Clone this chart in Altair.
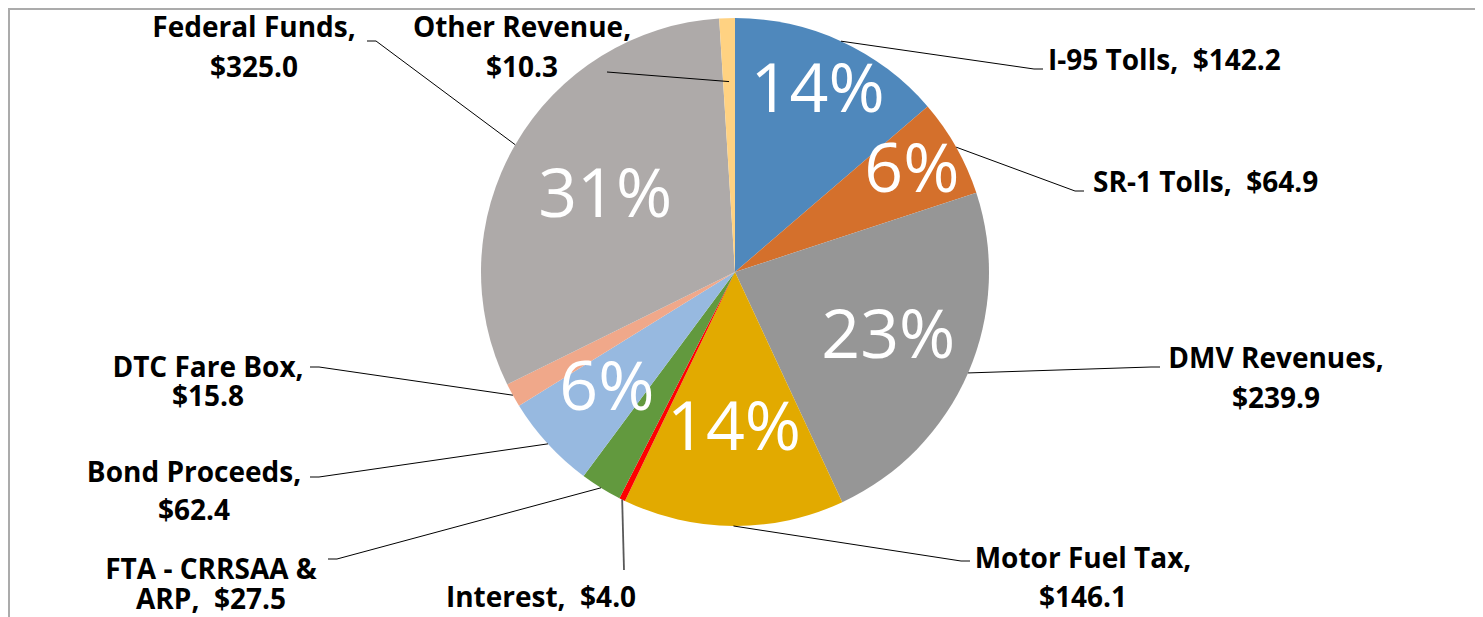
import altair as alt
import pandas as pd

# ---------------- data ----------------
categories = ["I-95 Tolls", "SR-1 Tolls", "DMV Revenues", "Motor Fuel Tax", "Interest",
              "FTA - CRRSAA & ARP", "Bond Proceeds", "DTC Fare Box", "Federal Funds", "Other Revenue"]
values = [142.2, 64.9, 239.9, 146.1, 4.0, 27.5, 62.4, 15.8, 325.0, 10.3]
colors = ["#4F88BC", "#D4702C", "#969696", "#E2AA00", "#FF0000",
          "#62993E", "#97B9E0", "#F0A88A", "#AEAAA9", "#FFD282"]

# how each data label is broken into lines ("one" = single line, "name" = name / value,
# any other string = text of the category kept on the first line)
label_break = ["one", "one", "name", "name", "one", "FTA - CRRSAA &", "name", "name", "name", "name"]

# ---------------- layout (pixels, relative to the pie centre) ----------------
label_dx = [313, 358, 541, 348, -194, -524, -541, -527, -481, -213]
label_dy = [-202, -80, 96, 296, 335, 307, 210, 105, -235, -235]
label_align = ["left", "left", "center", "center", "center", "center", "center", "center", "center", "center"]
line_gap = [0, 0, 40, 39, 0, 30, 38, 29, 40, 40]
leader_dx = [308, 349, 425, 235, -111, -407, -425, -425, -368, -128]
leader_dy = [-203, -81, 95, 289, 298, 287, 205, 95, -231, -200]
leader_elbow = [-9, -9, -9, -9, 0, 9, 9, 9, 9, 0]
leader_start = [1, 1, 1, 1, 1, 1, 1, 1, 1, 0.75]
leader_color = ["#000000"] * 4 + ["#595959"] + ["#000000"] * 5
leader_width = [1, 1, 1, 1, 1.8, 1, 1, 1, 1, 1]
pct_radius = [198, 203, 167, 158, 0, 0, 174, 0, 150, 0]

PAD_L, PAD_T = 2, 4
W, H = 1450, 520          # view; the pie is centred in it (page centre 735, 272)
TOTAL_W, TOTAL_H = 1467, 609
CX, CY = W / 2, H / 2
R = 254

NB = "\u00a0 "
line1, line2 = [], []
for cat, v, br in zip(categories, values, label_break):
    val = f"${v:.1f}"
    if br == "one":
        line1.append(f"{cat},{NB}{val}")
        line2.append("")
    elif br == "name":
        line1.append(f"{cat},")
        line2.append(val)
    else:
        rest = cat[len(br):].strip()
        line1.append(br)
        line2.append(f"{rest},{NB}{val}")

df = pd.DataFrame({
    "idx": list(range(len(categories))),
    "category": categories,
    "value": values,
    "line1": line1,
    "line2": line2,
    "ldx": label_dx,
    "ldy": label_dy,
    "align": label_align,
    "gap": line_gap,
    "edx": leader_dx,
    "edy": leader_dy,
    "elbow": leader_elbow,
    "lstart": leader_start,
    "lcolor": leader_color,
    "lwidth": leader_width,
    "prad": pct_radius,
})

base = alt.Chart(df).transform_joinaggregate(
    total="sum(value)"
).transform_window(
    cum="sum(value)", sort=[alt.SortField("idx")], frame=[None, 0]
).transform_calculate(
    mid="2*PI*(datum.cum - datum.value/2)/datum.total",
    pct="datum.value/datum.total",
)

pie = alt.Chart(df).mark_arc(outerRadius=R).encode(
    theta=alt.Theta("value:Q", stack=True),
    color=alt.Color("category:N", scale=alt.Scale(domain=categories, range=colors), legend=None),
    order=alt.Order("idx:Q"),
)

pct_text = base.transform_filter("datum.pct >= 0.05").transform_calculate(
    px=f"{CX} + datum.prad*sin(datum.mid)",
    py=f"{CY} - datum.prad*cos(datum.mid)",
    ptxt="format(datum.pct, '.0%')",
).mark_text(font="Open Sans", fontSize=68, color="white", align="center", baseline="middle").encode(
    x=alt.X("px:Q", scale=None), y=alt.Y("py:Q", scale=None), text="ptxt:N"
)

leaders = base.transform_calculate(
    sx=f"{CX} + {R}*datum.lstart*sin(datum.mid)",
    sy=f"{CY} - {R}*datum.lstart*cos(datum.mid)",
    bx=f"{CX} + datum.edx + datum.elbow",
    by=f"{CY} + datum.edy",
    ex=f"{CX} + datum.edx",
    ey=f"{CY} + datum.edy",
)
seg1 = leaders.mark_rule().encode(
    x=alt.X("sx:Q", scale=None), y=alt.Y("sy:Q", scale=None), x2="bx:Q", y2="by:Q",
    stroke=alt.Stroke("lcolor:N", scale=None), strokeWidth=alt.StrokeWidth("lwidth:Q", scale=None),
)
seg2 = leaders.mark_rule().encode(
    x=alt.X("bx:Q", scale=None), y=alt.Y("by:Q", scale=None), x2="ex:Q", y2="ey:Q",
    stroke=alt.Stroke("lcolor:N", scale=None), strokeWidth=alt.StrokeWidth("lwidth:Q", scale=None),
)

lab = base.transform_calculate(
    tx=f"{CX} + datum.ldx",
    ty1=f"{CY} + datum.ldy",
    ty2=f"{CY} + datum.ldy + datum.gap",
)
txt_style = dict(font="Open Sans", fontWeight="bold", fontSize=28, color="black", baseline="alphabetic")
lab_left = lab.transform_filter("datum.align == 'left'").mark_text(align="left", **txt_style).encode(
    x=alt.X("tx:Q", scale=None), y=alt.Y("ty1:Q", scale=None), text="line1:N"
)
lab_center = lab.transform_filter("datum.align == 'center'").mark_text(align="center", **txt_style).encode(
    x=alt.X("tx:Q", scale=None), y=alt.Y("ty1:Q", scale=None), text="line1:N"
)
lab_second = lab.transform_filter("datum.line2 != ''").mark_text(align="center", **txt_style).encode(
    x=alt.X("tx:Q", scale=None), y=alt.Y("ty2:Q", scale=None), text="line2:N"
)

border_top = alt.Chart(df).mark_rule(color="#ABABAB", strokeWidth=2).encode(
    x=alt.value(-PAD_L), x2=alt.value(TOTAL_W), y=alt.value(-PAD_T + 1)
)
border_left = alt.Chart(df).mark_rule(color="#ABABAB", strokeWidth=1.5).encode(
    x=alt.value(-PAD_L + 1), y=alt.value(-PAD_T), y2=alt.value(TOTAL_H)
)

chart = alt.layer(
    pie, seg1, seg2, pct_text, lab_left, lab_center, lab_second, border_top, border_left
).properties(
    width=W, height=H,
    padding={"left": PAD_L, "top": PAD_T, "right": TOTAL_W - W - PAD_L, "bottom": TOTAL_H - H - PAD_T},
    autosize=alt.AutoSizeParams(type="none"),
).configure_view(stroke=None)

chart.save("out.html", embed_options={"renderer": "svg", "actions": False})
